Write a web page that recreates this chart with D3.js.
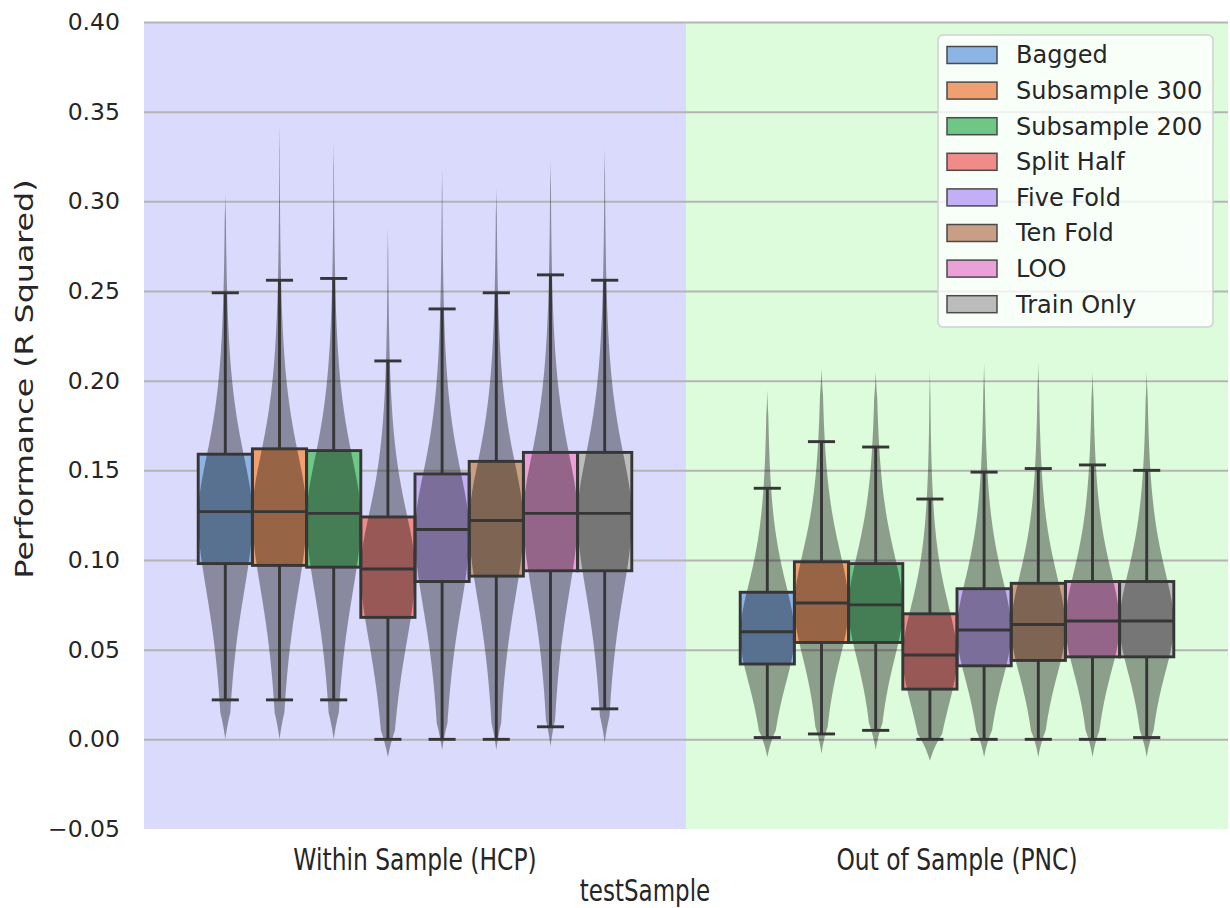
<!DOCTYPE html>
<html lang="en">
<head>
    <meta charset="UTF-8">
    <title>Performance by test sample</title>
    <script src="https://d3js.org/d3.v7.min.js"></script>
    <style>
        body {
            margin: 0;
            background: #ffffff;
            font-family: "DejaVu Sans", sans-serif;
        }
        .tick text {
            fill: #262626;
        }
    </style>
</head>
<body>
    <script>
        const groups = ["Within Sample (HCP)", "Out of Sample (PNC)"];
        const methods = ["Bagged", "Subsample 300", "Subsample 200", "Split Half",
                         "Five Fold", "Ten Fold", "LOO", "Train Only"];
        const methodColors = ["#8cb4e4", "#f0a070", "#6ec787", "#f08c88",
                              "#c3aff5", "#c89f84", "#eba0d8", "#bcbcbc"];
        const yTicks = [-0.05, 0, 0.05, 0.1, 0.15, 0.2, 0.25, 0.3, 0.35, 0.4];

        // box stats
        const hcpQ1     = [0.098, 0.097, 0.096, 0.068, 0.088, 0.091, 0.094, 0.094];
        const hcpMedian = [0.127, 0.127, 0.126, 0.095, 0.117, 0.122, 0.126, 0.126];
        const hcpQ3     = [0.159, 0.162, 0.161, 0.124, 0.148, 0.155, 0.160, 0.160];
        const hcpLow    = [0.022, 0.022, 0.022, 0.000, 0.000, 0.000, 0.007, 0.017];
        const hcpHigh   = [0.249, 0.256, 0.257, 0.211, 0.240, 0.249, 0.259, 0.256];

        const pncQ1     = [0.042, 0.054, 0.054, 0.028, 0.041, 0.044, 0.046, 0.046];
        const pncMedian = [0.060, 0.076, 0.075, 0.047, 0.061, 0.064, 0.066, 0.066];
        const pncQ3     = [0.082, 0.099, 0.098, 0.070, 0.084, 0.087, 0.088, 0.088];
        const pncLow    = [0.001, 0.003, 0.005, 0.000, 0.000, 0.000, 0.000, 0.001];
        const pncHigh   = [0.140, 0.166, 0.163, 0.134, 0.149, 0.151, 0.153, 0.150];

        // violin outlines: extent, peak and spread above / below the peak
        const hcpViolinLo   = [0.000, 0.000, 0.000, -0.010, -0.006, -0.006, -0.004, -0.002];
        const hcpViolinHi   = [0.305, 0.344, 0.334, 0.286, 0.319, 0.308, 0.323, 0.330];
        const hcpViolinPeak = [0.124, 0.125, 0.123, 0.094, 0.115, 0.120, 0.124, 0.124];
        const hcpSpreadUp   = [0.037, 0.037, 0.037, 0.035, 0.037, 0.037, 0.038, 0.038];
        const hcpSpreadDown = [0.046, 0.046, 0.046, 0.044, 0.046, 0.046, 0.046, 0.046];

        const pncViolinLo   = [-0.010, -0.008, -0.006, -0.012, -0.010, -0.010, -0.010, -0.010];
        const pncViolinHi   = [0.195, 0.207, 0.205, 0.207, 0.210, 0.210, 0.205, 0.205];
        const pncViolinPeak = [0.058, 0.074, 0.073, 0.046, 0.060, 0.062, 0.064, 0.064];
        const pncSpreadUp   = [0.031, 0.033, 0.033, 0.031, 0.032, 0.032, 0.032, 0.032];
        const pncSpreadDown = [0.029, 0.031, 0.031, 0.030, 0.029, 0.029, 0.029, 0.029];

        const width = 1230, height = 908;
        const margin = { top: 22, right: 2, bottom: 79, left: 144 };

        const svg = d3.select("body").append("svg")
            .attr("width", width)
            .attr("height", height)
            .style("font-family", "'DejaVu Sans', sans-serif");

        const x0 = d3.scaleBand()
            .domain(groups)
            .range([margin.left, width - margin.right]);
        const x1 = d3.scaleBand()
            .domain(methods)
            .range([x0.bandwidth() * 0.1, x0.bandwidth() * 0.9]);
        const y = d3.scaleLinear()
            .domain([-0.05, 0.4])
            .range([height - margin.bottom, margin.top]);

        // shaded panels
        const panelColors = ["#dadafd", "#dcfcdc"];
        svg.selectAll(".panel")
            .data(groups)
            .enter()
            .append("rect")
            .attr("x", d => x0(d))
            .attr("y", y(0.4))
            .attr("width", x0.bandwidth())
            .attr("height", y(-0.05) - y(0.4))
            .attr("fill", (d, i) => panelColors[i]);

        // grid lines
        const grid = svg.append("g")
            .attr("transform", `translate(${margin.left},0)`)
            .call(d3.axisLeft(y).tickValues(yTicks.filter(t => t > -0.05))
                .tickSize(-(width - margin.left - margin.right)).tickFormat(""));
        grid.select(".domain").remove();
        grid.selectAll("line").attr("stroke", "#b4b4b4").attr("stroke-width", 2);

        const stats = [
            { q1: hcpQ1, med: hcpMedian, q3: hcpQ3, lo: hcpLow, hi: hcpHigh,
              vLo: hcpViolinLo, vHi: hcpViolinHi, peak: hcpViolinPeak, sUp: hcpSpreadUp, sDown: hcpSpreadDown },
            { q1: pncQ1, med: pncMedian, q3: pncQ3, lo: pncLow, hi: pncHigh,
              vLo: pncViolinLo, vHi: pncViolinHi, peak: pncViolinPeak, sUp: pncSpreadUp, sDown: pncSpreadDown }
        ];

        const boxes = [];
        groups.forEach((g, gi) => {
            methods.forEach((m, mi) => {
                const s = stats[gi];
                boxes.push({
                    group: g, method: m, color: methodColors[mi],
                    q1: s.q1[mi], med: s.med[mi], q3: s.q3[mi], lo: s.lo[mi], hi: s.hi[mi],
                    vLo: s.vLo[mi], vHi: s.vHi[mi], peak: s.peak[mi], sUp: s.sUp[mi], sDown: s.sDown[mi]
                });
            });
        });

        const bw = x1.bandwidth();
        const cx = d => x0(d.group) + x1(d.method) + bw / 2;
        const lineColor = "#363636";

        // box fills
        svg.selectAll(".boxfill")
            .data(boxes)
            .enter()
            .append("rect")
            .attr("x", d => cx(d) - bw / 2)
            .attr("y", d => y(d.q3))
            .attr("width", bw)
            .attr("height", d => y(d.q1) - y(d.q3))
            .attr("fill", d => d.color);

        // violins drawn as a dark translucent layer, tails taper to a point
        const halfWidth = (d, v) => {
            const s = v > d.peak ? d.sUp : d.sDown;
            const taper = Math.min(1, (v - d.vLo) / 0.015, (d.vHi - v) / 0.015);
            return (bw / 2) * Math.max(0, taper) / Math.cosh((v - d.peak) / s);
        };
        const violinShape = d => {
            const pts = d3.range(d.vLo, d.vHi, 0.001).concat([d.vHi]);
            const area = d3.area()
                .x0(v => cx(d) - halfWidth(d, v))
                .x1(v => cx(d) + halfWidth(d, v))
                .y(v => y(v));
            return area(pts);
        };
        svg.selectAll(".violin")
            .data(boxes)
            .enter()
            .append("path")
            .attr("d", violinShape)
            .attr("fill", "rgba(0,0,0,0.37)");

        // box outlines, whiskers, caps, medians
        const marks = svg.selectAll(".marks")
            .data(boxes)
            .enter()
            .append("g")
            .attr("stroke", lineColor)
            .attr("stroke-width", 2.9)
            .attr("fill", "none");

        marks.append("line")
            .attr("x1", cx).attr("x2", cx)
            .attr("y1", d => y(d.q3)).attr("y2", d => y(d.hi));
        marks.append("line")
            .attr("x1", cx).attr("x2", cx)
            .attr("y1", d => y(d.q1)).attr("y2", d => y(d.lo));
        marks.append("line")
            .attr("x1", d => cx(d) - bw / 4).attr("x2", d => cx(d) + bw / 4)
            .attr("y1", d => y(d.hi)).attr("y2", d => y(d.hi));
        marks.append("line")
            .attr("x1", d => cx(d) - bw / 4).attr("x2", d => cx(d) + bw / 4)
            .attr("y1", d => y(d.lo)).attr("y2", d => y(d.lo));
        marks.append("rect")
            .attr("x", d => cx(d) - bw / 2)
            .attr("y", d => y(d.q3))
            .attr("width", bw)
            .attr("height", d => y(d.q1) - y(d.q3));
        marks.append("line")
            .attr("x1", d => cx(d) - bw / 2).attr("x2", d => cx(d) + bw / 2)
            .attr("y1", d => y(d.med)).attr("y2", d => y(d.med));

        // y tick labels
        const yAxis = svg.append("g")
            .attr("transform", `translate(${margin.left},0)`)
            .call(d3.axisLeft(y).tickValues(yTicks).tickSize(0).tickPadding(24)
                .tickFormat(d3.format(".2f")));
        yAxis.select(".domain").remove();
        yAxis.selectAll("text").style("font-size", "23.5px").style("font-family", "'DejaVu Sans', sans-serif");

        // x tick labels
        svg.selectAll(".xlabel")
            .data(groups)
            .enter()
            .append("text")
            .attr("transform", d => `translate(${x0(d) + x0.bandwidth() / 2},870) scale(1,1.3)`)
            .attr("text-anchor", "middle")
            .attr("fill", "#262626")
            .style("font-size", "23.4px")
            .text(d => d);

        svg.append("text")
            .attr("transform", "translate(645,901) scale(1,1.3)")
            .attr("text-anchor", "middle")
            .attr("fill", "#262626")
            .style("font-size", "23px")
            .text("testSample");

        svg.append("text")
            .attr("transform", "translate(33,379) rotate(-90) scale(1.32,1)")
            .attr("text-anchor", "middle")
            .attr("fill", "#262626")
            .style("font-size", "24px")
            .text("Performance (R Squared)");

        // legend
        const legend = svg.append("g").attr("transform", "translate(938,35)");
        legend.append("rect")
            .attr("width", 275)
            .attr("height", 292)
            .attr("rx", 5)
            .attr("fill", "white")
            .attr("fill-opacity", 0.8)
            .attr("stroke", "#d0d0d0")
            .attr("stroke-width", 1.5);

        const rows = legend.selectAll(".row")
            .data(methods)
            .enter()
            .append("g")
            .attr("transform", (d, i) => `translate(0,${20 + i * 35.6})`);
        rows.append("rect")
            .attr("x", 9)
            .attr("y", -8.5)
            .attr("width", 50)
            .attr("height", 17)
            .attr("fill", (d, i) => methodColors[i])
            .attr("stroke", "#4a4a4a")
            .attr("stroke-width", 1.5);
        rows.append("text")
            .attr("x", 78)
            .attr("dy", "0.35em")
            .attr("fill", "#262626")
            .style("font-size", "24px")
            .text(d => d);
    </script>
</body>
</html>
